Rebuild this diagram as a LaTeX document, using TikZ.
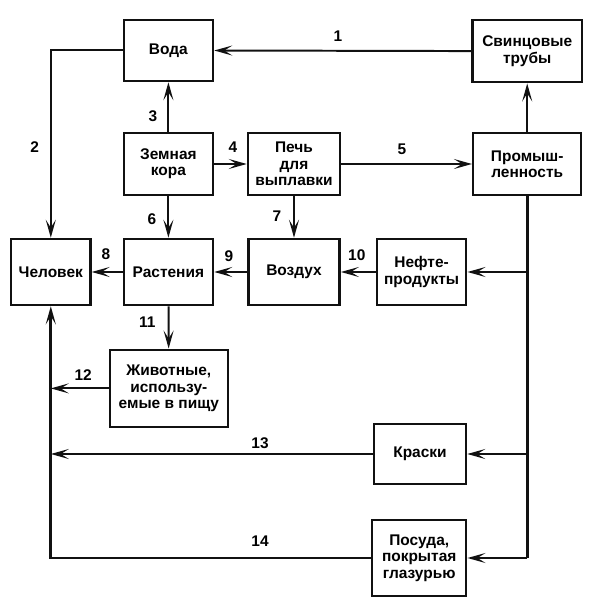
\documentclass[tikz,border=0pt]{standalone}
\usepackage{fontspec}
\setmainfont{Liberation Sans}
\usepackage{tikz}
\usepackage{xcolor}
\usetikzlibrary{arrows.meta,positioning,calc}
\definecolor{Ink}{HTML}{111111}

\begin{document}
\begin{tikzpicture}[every node/.style={font=\bfseries\fontsize{11}{11.6}\selectfont,align=center},
  box/.style={draw=Ink,line width=1.8pt,inner sep=2pt},
  link/.style={-{Stealth[length=4.5mm,width=2.5mm,inset=2mm]},Ink,line width=1.4pt},
  trunk/.style={Ink,line width=1.9pt}]
  \useasboundingbox (0,0) rectangle (15,15.1);
  % boxes
  \node[box,minimum width=2.23cm,minimum height=1.53cm] (voda) at (4.21,13.84) {Вода};
  \node[box,minimum width=2.73cm,minimum height=1.55cm] (truby) at (13.18,13.82) {Свинцовые\\трубы};
  \node[box,minimum width=2.23cm,minimum height=1.55cm] (kora) at (4.21,11.0) {Земная\\кора};
  \node[box,minimum width=2.3cm,minimum height=1.55cm] (pech) at (7.35,11.0) {Печь\\для\\выплавки};
  \node[box,minimum width=2.7cm,minimum height=1.55cm] (prom) at (13.18,11.0) {Промыш-\\ленность};
  \node[box,minimum width=1.98cm,minimum height=1.65cm] (chel) at (1.27,8.3) {Человек};
  \node[box,minimum width=2.23cm,minimum height=1.65cm] (rast) at (4.21,8.3) {Растения};
  \node[box,minimum width=2.28cm,minimum height=1.65cm] (vozd) at (7.35,8.3) {Воздух};
  \node[box,minimum width=2.23cm,minimum height=1.65cm] (neft) at (10.54,8.3) {Нефте-\\продукты};
  \node[box,minimum width=2.95cm,minimum height=1.93cm] (zhiv) at (4.22,5.39) {Животные,\\использу-\\емые в пищу};
  \node[box,minimum width=2.3cm,minimum height=1.5cm] (kraski) at (10.5,3.75) {Краски};
  \node[box,minimum width=2.35cm,minimum height=1.9cm] (posuda) at (10.48,1.15) {Посуда,\\покрытая\\глазурью};
  % connectors
  \draw[link] (truby) -- (voda);
  \draw[link] (voda.west) -| (chel.north);
  \draw[link] (kora) -- (voda);
  \draw[link] (kora) -- (pech);
  \draw[link] (pech) -- (prom);
  \draw[link] (prom) -- (truby);
  \draw[link] (kora) -- (rast);
  \draw[link] (pech) -- (vozd);
  \draw[link] (rast) -- (chel);
  \draw[link] (vozd) -- (rast);
  \draw[link] (neft) -- (vozd);
  \draw[link] (rast) -- (zhiv);
  \draw[trunk] (prom.south) -- (prom.south |- posuda.east);
  \draw[link] (prom.south |- neft.east) -- (neft.east);
  \draw[link] (prom.south |- kraski.east) -- (kraski.east);
  \draw[link] (prom.south |- posuda.east) -- (posuda.east);
  \draw[trunk,-{Stealth[length=4.5mm,width=2.5mm,inset=2mm]}] (posuda.west) -| (chel.south);
  \draw[link] (zhiv.west) -- (zhiv.west -| chel.south);
  \draw[link] (kraski.west) -- (kraski.west -| chel.south);
  % numbers
  \node (n1) at (8.45,14.2) {1};
  \node (n2) at (0.87,11.42) {2};
  \node (n3) at (3.82,12.2) {3};
  \node (n4) at (5.82,11.42) {4};
  \node (n5) at (10.05,11.38) {5};
  \node (n6) at (3.8,9.62) {6};
  \node (n7) at (6.92,9.7) {7};
  \node (n8) at (2.65,8.75) {8};
  \node (n9) at (5.72,8.7) {9};
  \node (n10) at (8.92,8.72) {10};
  \node (n11) at (3.68,7.05) {11};
  \node (n12) at (2.08,5.72) {12};
  \node (n13) at (6.5,4.03) {13};
  \node (n14) at (6.5,1.57) {14};
\end{tikzpicture}
\end{document}
